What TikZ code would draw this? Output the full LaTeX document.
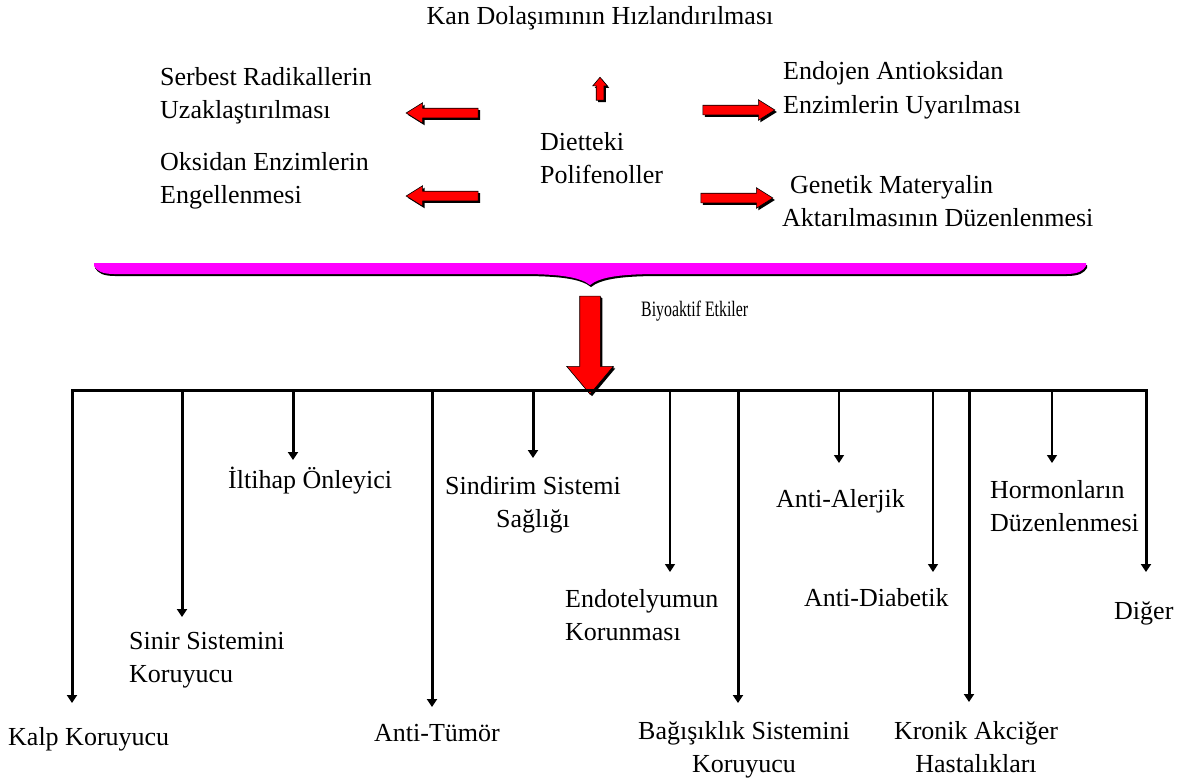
\documentclass[tikz,border=0pt]{standalone}
\usepackage{fontspec}
\setmainfont{Liberation Serif}
\usetikzlibrary{arrows.meta,shapes.arrows,shadows}
\definecolor{BraceMagenta}{HTML}{FF00FF}
\definecolor{BlockRed}{HTML}{FF0000}

\begin{document}
\begin{tikzpicture}[x=1pt,y=-1pt,>={Triangle[width=10pt,length=8pt]},
  every node/.style={font=\fontsize{26}{33}\selectfont,inner sep=0pt},
  redarrow/.style={single arrow,fill=BlockRed,draw=black,line width=0.6pt,inner sep=4.5pt,single arrow head extend=5.5pt,single arrow tip angle=64,minimum height=72pt,drop shadow={shadow xshift=2pt,shadow yshift=-2pt,fill=black,opacity=1}},
  drop/.style={->,line width=3pt},
  thindrop/.style={->,line width=1.5pt}]
\fill[white] (0,0) rectangle (1186,784); \useasboundingbox (0,0) rectangle (1186,784);
% centre and the five effects round it
\node[anchor=base] (kan) at (600,25){Kan Dolaşımının Hızlandırılması};
\node[anchor=base west,align=left] (diet) at (540,183){Dietteki\\Polifenoller};
\node[anchor=base west,align=left] (serbest) at (160,118){Serbest Radikallerin\\Uzaklaştırılması};
\node[anchor=base west,align=left] (oksidan) at (160,203){Oksidan Enzimlerin\\Engellenmesi};
\node[anchor=base west,align=left] (endojen) at (783,113){Endojen Antioksidan\\Enzimlerin Uyarılması};
\node[anchor=base west,align=left] (genetik) at (782,226){\hspace*{8pt}Genetik Materyalin\\Aktarılmasının Düzenlenmesi};
\node[redarrow,shape border rotate=90,minimum height=23pt,inner sep=3.5pt,single arrow head extend=3.5pt,single arrow tip angle=80] (up) at (600,91){};
\node[redarrow,shape border rotate=180] (toserbest) at (446,113){};
\node[redarrow,shape border rotate=180] (tooksidan) at (446,196){};
\node[redarrow] (toendojen) at (735,110){};
\node[redarrow] (togenetik) at (733,198){};
% brace and the big arrow
\fill[BraceMagenta,drop shadow={shadow xshift=1pt,shadow yshift=-2pt,fill=black,opacity=1}] (94,263) -- (1086,263) -- (1086,266) .. controls (1083,271) and (1078,274) .. (1066,274) -- (660,274) .. controls (620,274) and (600,277) .. (590,285) .. controls (580,277) and (560,274) .. (520,274) -- (114,274) .. controls (102,274) and (97,271) .. (94,266) -- cycle;
\node[redarrow,shape border rotate=270,minimum height=98pt,inner sep=10pt,single arrow head extend=13pt,single arrow tip angle=80,drop shadow={shadow xshift=1pt,shadow yshift=-1pt,fill=black,opacity=1}] (down) at (590,339){};
\node[anchor=base west,font=\fontsize{22}{26}\selectfont] (biyo) at (641,316){\scalebox{0.72}[1]{Biyoaktif Etkiler}};
% bar and the bioactive effects
\coordinate (barL) at (72,390); \coordinate (barR) at (1146,390);
\draw[line width=3pt,line cap=rect] (barL) -- (barR);
\node[anchor=base west] (kalp) at (8,745){Kalp Koruyucu};
\node[anchor=base west,align=left] (sinir) at (129,682){Sinir Sistemini\\Koruyucu};
\node[anchor=base west] (iltihap) at (228,488){İltihap Önleyici};
\node[anchor=base west] (tumor) at (374,741){Anti-Tümör};
\node[anchor=base,align=center] (sindirim) at (533,527){Sindirim Sistemi\\Sağlığı};
\node[anchor=base west,align=left] (endotel) at (565,640){Endotelyumun\\Korunması};
\node[anchor=base,align=center] (bagisik) at (744,772){Bağışıklık Sistemini\\Koruyucu};
\node[anchor=base west] (alerjik) at (776,507){Anti-Alerjik};
\node[anchor=base west] (diabetik) at (804,606){Anti-Diabetik};
\node[anchor=base,align=center] (kronik) at (976,772){Kronik Akciğer\\Hastalıkları};
\node[anchor=base west,align=left] (hormon) at (990,531){Hormonların\\Düzenlenmesi};
\node[anchor=base west] (diger) at (1114,619){Diğer};
\coordinate (kalp tip) at (72,703); \coordinate (sinir tip) at (182,617); \coordinate (iltihap tip) at (293,460);
\coordinate (tumor tip) at (432,707); \coordinate (sindirim tip) at (533,458); \coordinate (endotel tip) at (670,572);
\coordinate (bagisik tip) at (738,703); \coordinate (alerjik tip) at (839,463); \coordinate (diabetik tip) at (933,572);
\coordinate (kronik tip) at (969,702); \coordinate (hormon tip) at (1052,463); \coordinate (diger tip) at (1146,572);
\draw[drop] (kalp tip |- barL) -- (kalp tip); \draw[drop] (sinir tip |- barL) -- (sinir tip);
\draw[drop] (iltihap tip |- barL) -- (iltihap tip); \draw[drop] (tumor tip |- barL) -- (tumor tip);
\draw[drop] (sindirim tip |- barL) -- (sindirim tip); \draw[thindrop] (endotel tip |- barL) -- (endotel tip);
\draw[drop] (bagisik tip |- barL) -- (bagisik tip); \draw[thindrop] (alerjik tip |- barL) -- (alerjik tip);
\draw[thindrop] (diabetik tip |- barL) -- (diabetik tip); \draw[drop] (kronik tip |- barL) -- (kronik tip);
\draw[thindrop] (hormon tip |- barL) -- (hormon tip); \draw[drop] (diger tip |- barR) -- (diger tip);
\end{tikzpicture}
\end{document}
